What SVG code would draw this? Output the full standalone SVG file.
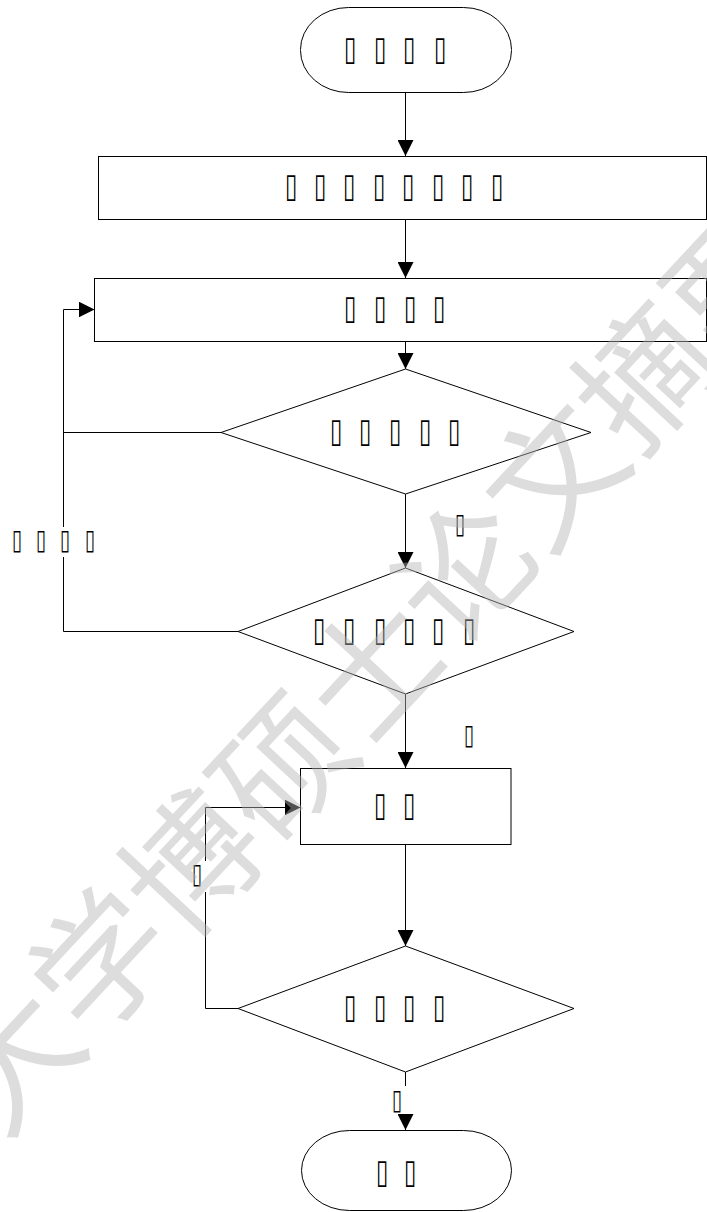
<svg xmlns="http://www.w3.org/2000/svg" width="707" height="1212" viewBox="0 0 707 1212">
<style>
.shape{fill:#fff;stroke:#000;stroke-width:1}
.conn{fill:none;stroke:#000;stroke-width:1}
.t{font-family:"DejaVu Sans",sans-serif;font-size:34px;fill:#000;text-anchor:middle;dominant-baseline:central}
.s{font-family:"DejaVu Sans",sans-serif;font-size:28px;fill:#000;text-anchor:middle;dominant-baseline:central}
.wm{font-family:"Noto Sans CJK SC",sans-serif;font-size:133px;fill:#b5b5b5;opacity:0.45;dominant-baseline:central}
</style>
<defs>
<marker id="ah" markerUnits="userSpaceOnUse" markerWidth="16" markerHeight="16" refX="16" refY="8" orient="auto">
<path d="M0,0 L16,8 L0,16 z" fill="#000"/>
</marker>
</defs>
<g id="connectors">
<path class="conn" d="M405.5 92 V156" marker-end="url(#ah)"/>
<path class="conn" d="M405.5 219 V278" marker-end="url(#ah)"/>
<path class="conn" d="M405.5 341 V369" marker-end="url(#ah)"/>
<path class="conn" d="M405.5 494 V568" marker-end="url(#ah)"/>
<path class="conn" d="M405.5 694 V768" marker-end="url(#ah)"/>
<path class="conn" d="M405.5 844 V946" marker-end="url(#ah)"/>
<path class="conn" d="M405.5 1072 V1086"/>
<path class="conn" d="M405.5 1114 V1130" marker-end="url(#ah)"/>
<path class="conn" d="M221 432.5 H63.5"/>
<path class="conn" d="M238 631.5 H63.5 V557"/>
<path class="conn" d="M63.5 527 V309.5 H94.5" marker-end="url(#ah)"/>
<path class="conn" d="M238 1008.5 H205.5 V892"/>
<path class="conn" d="M205.5 861 V807.5 H300.5" marker-end="url(#ah)"/>
<text class="s" transform="scale(0.65 1)" x="26.2 63.1 100 138.5" y="540">▯▯▯▯</text>
<text class="s" transform="scale(0.65 1)" x="707.7" y="524">▯</text>
<text class="s" transform="scale(0.65 1)" x="721.5" y="735">▯</text>
<text class="s" transform="scale(0.65 1)" x="303.1" y="874">▯</text>
<text class="s" transform="scale(0.65 1)" x="610.8" y="1100">▯</text>
</g>
<g id="start">
<rect class="shape" x="300.5" y="7.5" width="211" height="85" rx="48" ry="42"/>
<text class="t" transform="scale(0.65 1)" x="538.5 584.6 629.2 676.9" y="48.5">▯▯▯▯</text>
</g>
<g id="step1">
<rect class="shape" x="98.5" y="156.5" width="608" height="63"/>
<text class="t" transform="scale(0.65 1)" x="447.7 492.3 536.9 583.1 627.7 673.8 718.5 764.6" y="185">▯▯▯▯▯▯▯▯</text>
</g>
<g id="step2">
<rect class="shape" x="94.5" y="278.5" width="612" height="63"/>
<text class="t" transform="scale(0.65 1)" x="538.5 584.6 630.8 675.4" y="307">▯▯▯▯</text>
</g>
<g id="decision1">
<polygon class="shape" points="405.5,369 591,432.5 405.5,494 221,432.5"/>
<text class="t" transform="scale(0.65 1)" x="516.9 561.5 607.7 653.8 698.5" y="430">▯▯▯▯▯</text>
</g>
<g id="decision2">
<polygon class="shape" points="405.5,568 574,631.5 405.5,694 238,631.5"/>
<text class="t" transform="scale(0.65 1)" x="490.8 536.9 584.6 629.2 673.8 721.5" y="629">▯▯▯▯▯▯</text>
</g>
<g id="step3">
<rect class="shape" x="300.5" y="768.5" width="210.5" height="76"/>
<text class="t" transform="scale(0.65 1)" x="584.6 629.2" y="804">▯▯</text>
</g>
<g id="decision3">
<polygon class="shape" points="405.5,946 574,1008.5 405.5,1072 238,1008.5"/>
<text class="t" transform="scale(0.65 1)" x="538.5 584.6 629.2 675.4" y="1006">▯▯▯▯</text>
</g>
<g id="end">
<rect class="shape" x="301.5" y="1130.5" width="210" height="80" rx="48" ry="40"/>
<text class="t" transform="scale(0.65 1)" x="587.7 630.8" y="1171">▯▯</text>
</g>
<g id="watermark" transform="translate(95,955) rotate(-47)">
<text class="wm" x="-199.5" y="0">大学博硕士论文摘要</text>
</g>
</svg>
